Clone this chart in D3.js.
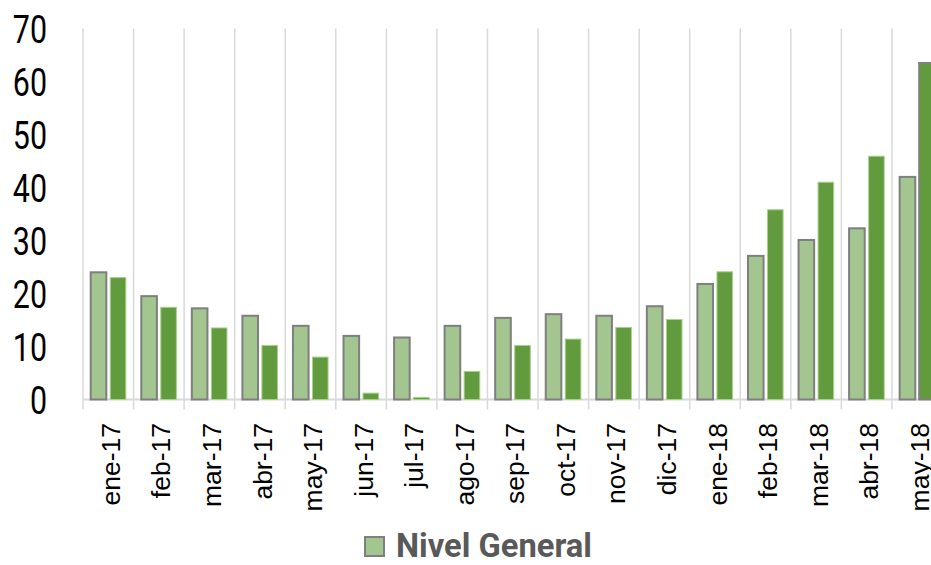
<!DOCTYPE html>
<html><head><meta charset="utf-8">
<script src="https://cdn.jsdelivr.net/npm/d3@7"></script>
<style>html,body{margin:0;padding:0;background:#fff;overflow:hidden}svg{display:block}</style>
</head><body>
<svg id="chart" width="931" height="565"></svg>
<script>
const categories = ["ene-17","feb-17","mar-17","abr-17","may-17","jun-17","jul-17","ago-17","sep-17","oct-17","nov-17","dic-17","ene-18","feb-18","mar-18","abr-18","may-18"];
const nivelGeneral = [24.0,19.5,17.2,15.8,13.9,12.0,11.7,13.9,15.4,16.1,15.8,17.6,21.8,27.1,30.1,32.3,42.0];
const serie2 = [23.0,17.4,13.5,10.2,8.0,1.2,0.4,5.3,10.2,11.4,13.6,15.1,24.1,35.8,41.0,45.9,63.5];
const yTicks = [0,10,20,30,40,50,60,70];
const legendLabel = "Nivel General";

const svg = d3.select("#chart");
const x0 = d3.scaleBand().domain(categories).range([83, 942.5]).padding(0);
const x1 = d3.scaleBand().domain(["a","b"]).range([0, x0.bandwidth()]).paddingInner(0.2).paddingOuter(0.395);
const y = d3.scaleLinear().domain([0,70]).range([399.5, 28.5]);

const grid = "#d9d9d9";
// vertical category boundary lines
const bounds = categories.map(c => x0(c));
svg.append("g").selectAll("line").data(bounds).join("line")
  .attr("x1", d => d).attr("x2", d => d)
  .attr("y1", y(70)).attr("y2", y(0) + 10)
  .attr("stroke", grid).attr("stroke-width", 1.5);
// baseline
svg.append("line").attr("x1", x0.range()[0]).attr("x2", x0.range()[1])
  .attr("y1", y(0)).attr("y2", y(0)).attr("stroke", grid).attr("stroke-width", 2);

const light = "#a3c58f", dark = "#629a3e";
const g = svg.append("g");
g.selectAll("rect.a").data(categories).join("rect").attr("class","a")
  .attr("x", c => x0(c) + x1("a")).attr("width", x1.bandwidth())
  .attr("y", (c,i) => y(nivelGeneral[i])).attr("height", (c,i) => y(0) - y(nivelGeneral[i]))
  .attr("fill", light).attr("stroke", "#7f7f7f").attr("stroke-width", 2);
g.selectAll("rect.b").data(categories).join("rect").attr("class","b")
  .attr("x", c => x0(c) + x1("b")).attr("width", x1.bandwidth())
  .attr("y", (c,i) => y(serie2[i])).attr("height", (c,i) => y(0) - y(serie2[i]))
  .attr("fill", dark)
  .attr("stroke", (c,i) => i === categories.length - 1 ? "#7f7f7f" : "#a9d18e")
  .attr("stroke-width", (c,i) => i === categories.length - 1 ? 2 : 1);

// y labels
svg.append("g").selectAll("text").data(yTicks).join("text")
  .attr("transform", d => `translate(47,${y(d) + 1}) scale(0.8,1)`)
  .attr("text-anchor", "end").attr("dy", "0.355em")
  .attr("font-family", "Roboto").attr("font-size", 38).attr("fill", "#000")
  .text(d => d);

// x labels
svg.append("g").selectAll("text").data(categories).join("text")
  .attr("transform", c => `translate(${x0(c) + x0.bandwidth()/2 + 2},423) rotate(-90)`)
  .attr("text-anchor", "end").attr("dy", "0.36em")
  .attr("font-family", "Liberation Sans, Arial, sans-serif").attr("font-size", 26.5).attr("fill", "#000")
  .text(c => c);

// legend
svg.append("rect").attr("x", 365).attr("y", 537).attr("width", 19).attr("height", 19)
  .attr("fill", light).attr("stroke", "#7f7f7f").attr("stroke-width", 2);
svg.append("text").attr("x", 396).attr("y", 557)
  .attr("font-family", "Roboto").attr("font-weight", "bold").attr("font-size", 33)
  .attr("fill", "#595959").attr("textLength", 196).attr("lengthAdjust", "spacingAndGlyphs")
  .text(legendLabel);
</script>
</body></html>
